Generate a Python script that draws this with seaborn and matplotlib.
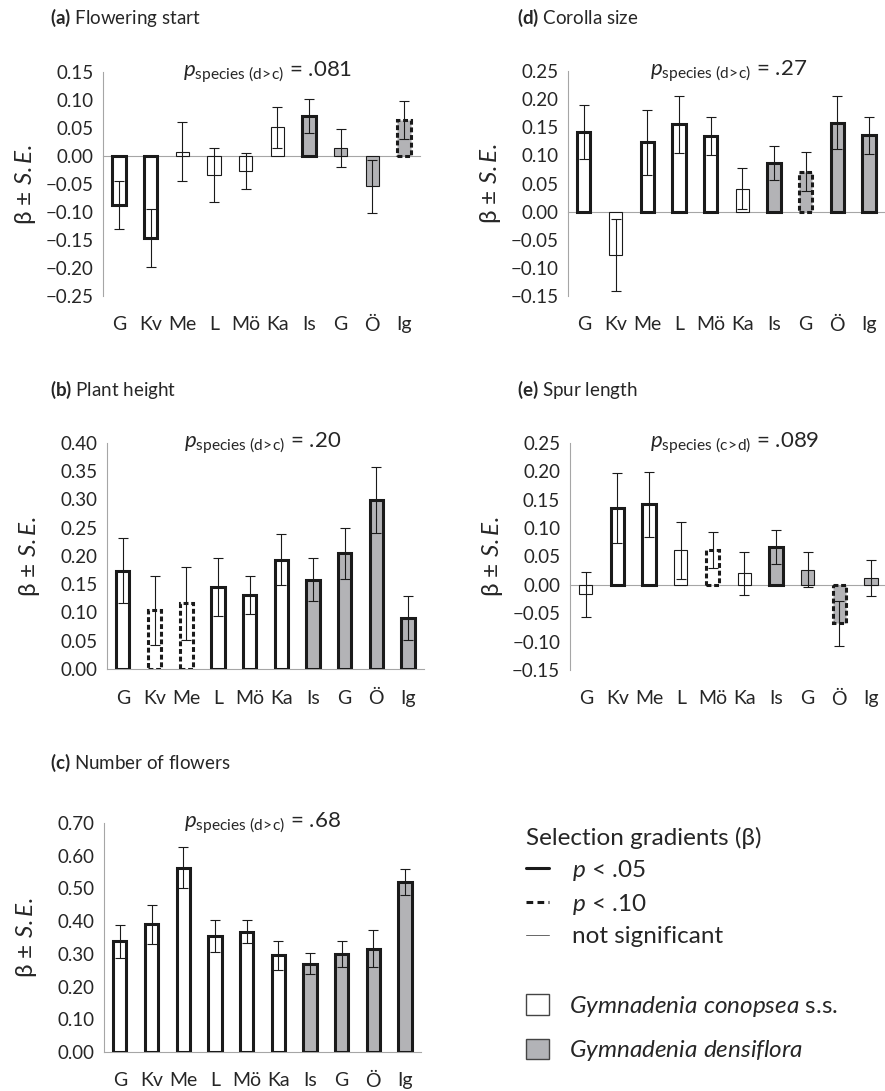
import numpy as np
import pandas as pd
import matplotlib
import matplotlib.pyplot as plt
import matplotlib.transforms as mtransforms
from matplotlib.lines import Line2D
from matplotlib.patches import Patch
import seaborn as sns

# site labels (first six: G. conopsea, last four: G. densiflora)
sites = ["G", "Kv", "Me", "L", "Mö", "Ka", "Is", "G", "Ö", "Ig"]
species = ["conopsea"] * 6 + ["densiflora"] * 4

# (a) Flowering start
beta_a = [-0.088, -0.147, 0.008, -0.034, -0.027, 0.051, 0.071, 0.014, -0.054, 0.064]
se_a = [0.043, 0.052, 0.053, 0.048, 0.032, 0.036, 0.030, 0.034, 0.047, 0.034]
sig_a = ["s", "s", "n", "n", "n", "n", "s", "n", "n", "d"]

# (b) Plant height
beta_b = [0.174, 0.104, 0.116, 0.145, 0.131, 0.193, 0.158, 0.205, 0.299, 0.090]
se_b = [0.057, 0.061, 0.064, 0.052, 0.034, 0.045, 0.038, 0.045, 0.058, 0.039]
sig_b = ["s", "d", "d", "s", "s", "s", "s", "s", "s", "s"]

# (c) Number of flowers
beta_c = [0.338, 0.390, 0.563, 0.354, 0.367, 0.295, 0.270, 0.300, 0.316, 0.520]
se_c = [0.050, 0.060, 0.062, 0.050, 0.035, 0.045, 0.033, 0.039, 0.056, 0.040]
sig_c = ["s"] * 10

# (d) Corolla size
beta_d = [0.141, -0.077, 0.123, 0.155, 0.134, 0.041, 0.087, 0.071, 0.158, 0.136]
se_d = [0.048, 0.064, 0.057, 0.050, 0.034, 0.037, 0.030, 0.035, 0.047, 0.033]
sig_d = ["s", "n", "s", "s", "s", "n", "s", "d", "s", "s"]

# (e) Spur length
beta_e = [-0.017, 0.135, 0.142, 0.061, 0.061, 0.020, 0.067, 0.027, -0.068, 0.012]
se_e = [0.040, 0.062, 0.057, 0.050, 0.032, 0.038, 0.030, 0.030, 0.040, 0.032]
sig_e = ["n", "s", "s", "n", "d", "n", "s", "n", "d", "n"]

TEXT = "#262626"
AXIS = "#a6a6a6"
GREY = "#b2b3b7"
DASH = (0, (1.6, 0.9))

sns.set_style("white")
plt.rcParams["font.family"] = ["Lato", "DejaVu Sans"]
plt.rcParams["mathtext.fontset"] = "custom"
plt.rcParams["mathtext.rm"] = "Lato"
plt.rcParams["mathtext.it"] = "Lato:italic"
plt.rcParams["mathtext.bf"] = "Lato:bold"
plt.rcParams["text.color"] = TEXT


def draw_panel(ax, beta, se, sig, ymin, ymax, step, title, ptext, px, title_xy):
    df = pd.DataFrame({"pos": range(len(sites)), "beta": beta, "species": species})
    sns.barplot(data=df, x="pos", y="beta", hue="species", dodge=False, width=0.42,
                palette={"conopsea": "white", "densiflora": GREY},
                errorbar=None, legend=False, ax=ax, zorder=3)

    # edge style of each bar from its significance
    for p in ax.patches:
        i = int(round(p.get_x() + p.get_width() / 2))
        p.set_edgecolor("#1a1a1a")
        if sig[i] == "s":
            p.set_linewidth(2.2)
        elif sig[i] == "d":
            p.set_linewidth(2.2)
            p.set_linestyle(DASH)
        else:
            p.set_linewidth(0.8)

    # beta +/- SE
    ax.errorbar(df["pos"], df["beta"], yerr=se, fmt="none", ecolor="#1a1a1a",
                elinewidth=0.8, capsize=3.6, capthick=0.8, zorder=4)

    ax.set_xlim(-0.5, len(sites) - 0.5)
    ax.set_ylim(ymin, ymax)
    ticks = np.round(np.arange(ymin, ymax + step / 2, step), 2)
    ax.set_yticks(ticks)
    ax.set_yticklabels([f"{t:.2f}".replace("-", "\u2212") if t != 0 else "0.00" for t in ticks],
                       fontsize=13.5, color=TEXT)

    # x axis line sits at zero with small marks between sites
    for s in ["top", "right"]:
        ax.spines[s].set_visible(False)
    ax.spines["bottom"].set_position(("data", 0))
    ax.spines["bottom"].set_color(AXIS)
    ax.spines["left"].set_color(AXIS)
    ax.spines["bottom"].set_zorder(2)
    ax.set_xticks(np.arange(0.5, len(sites) - 0.4, 1.0))
    ax.set_xticklabels([])
    ax.tick_params(axis="x", length=5, color=AXIS, direction="out", width=1)
    ax.tick_params(axis="y", length=4, color=AXIS, direction="out", width=1, pad=3)
    ax.set_xlabel("")

    # site names sit below the plotting area, not under the zero line
    trans = mtransforms.blended_transform_factory(ax.transData, ax.transAxes) + \
        mtransforms.ScaledTranslation(0, -29 / 100, ax.figure.dpi_scale_trans)
    for i, s in enumerate(sites):
        ax.text(i, 0, s, transform=trans, ha="center", va="center", fontsize=14, color=TEXT)

    ax.set_ylabel(r"β ± $\mathit{S.E.}$", fontsize=17.5, color=TEXT)
    ax.yaxis.set_label_coords(-0.205, 0.5)

    ax.text(px, 1.0, ptext, transform=ax.transAxes, ha="center", va="center",
            fontsize=16, color=TEXT)
    ax.figure.text(title_xy[0], title_xy[1], title, fontsize=13.5, color=TEXT,
                   ha="left", va="center")


fig = plt.figure(figsize=(8.85, 10.91), dpi=100)

W = 0.358
ax_a = fig.add_axes([0.1164, 0.7287, W, 0.2053])
ax_d = fig.add_axes([0.6418, 0.7287, W, 0.2062])
ax_b = fig.add_axes([0.1209, 0.3868, W, 0.2072])
ax_e = fig.add_axes([0.6440, 0.3859, W, 0.2081])
ax_c = fig.add_axes([0.1175, 0.0358, W, 0.2099])

PA = r"$p_{\mathrm{species\ (d\!>\!c)}}$"
PE = r"$p_{\mathrm{species\ (c\!>\!d)}}$"
draw_panel(ax_a, beta_a, se_a, sig_a, -0.25, 0.15, 0.05,
           r"$\mathbf{(a)}$ Flowering start", PA + " = .081", 0.52, (0.0565, 0.9835))
draw_panel(ax_d, beta_d, se_d, sig_d, -0.15, 0.25, 0.05,
           r"$\mathbf{(d)}$ Corolla size", PA + " = .27", 0.506, (0.584, 0.9835))
draw_panel(ax_b, beta_b, se_b, sig_b, 0.0, 0.40, 0.05,
           r"$\mathbf{(b)}$ Plant height", PA + " = .20", 0.49, (0.0565, 0.6425))
draw_panel(ax_e, beta_e, se_e, sig_e, -0.15, 0.25, 0.05,
           r"$\mathbf{(e)}$ Spur length", PE + " = .089", 0.52, (0.584, 0.6425))
draw_panel(ax_c, beta_c, se_c, sig_c, 0.0, 0.70, 0.10,
           r"$\mathbf{(c)}$ Number of flowers", PA + " = .68", 0.50, (0.0565, 0.3006))

# legends
line_handles = [
    Line2D([], [], color="#1a1a1a", lw=2.2),
    Line2D([], [], color="#1a1a1a", lw=2.2, linestyle=(0, (2.2, 1.4))),
    Line2D([], [], color="#666666", lw=0.7),
]
leg1 = fig.legend(line_handles, [r"$p$ < .05", r"$p$ < .10", "not significant"],
                  title="Selection gradients (β)", title_fontsize=17.5, fontsize=17.5,
                  loc="upper left", bbox_to_anchor=(0.594, 0.2425), frameon=False,
                  alignment="left", handlelength=0.95, handletextpad=0.95,
                  labelspacing=0.38, borderpad=0, borderaxespad=0)
for t in leg1.get_texts():
    t.set_color(TEXT)
leg1.get_title().set_color(TEXT)

patch_handles = [
    Patch(facecolor="white", edgecolor="#444444", lw=1.0),
    Patch(facecolor=GREY, edgecolor="#444444", lw=1.0),
]
leg2 = fig.legend(patch_handles,
                  [r"$\mathit{Gymnadenia\ conopsea}$ s.s.", r"$\mathit{Gymnadenia\ densiflora}$"],
                  fontsize=17.5, loc="upper left", bbox_to_anchor=(0.594, 0.089), frameon=False,
                  handlelength=0.95, handleheight=0.95, handletextpad=0.85,
                  labelspacing=0.8, borderpad=0, borderaxespad=0)
for t in leg2.get_texts():
    t.set_color(TEXT)

fig.savefig("out.png", dpi=100)
plt.close(fig)
